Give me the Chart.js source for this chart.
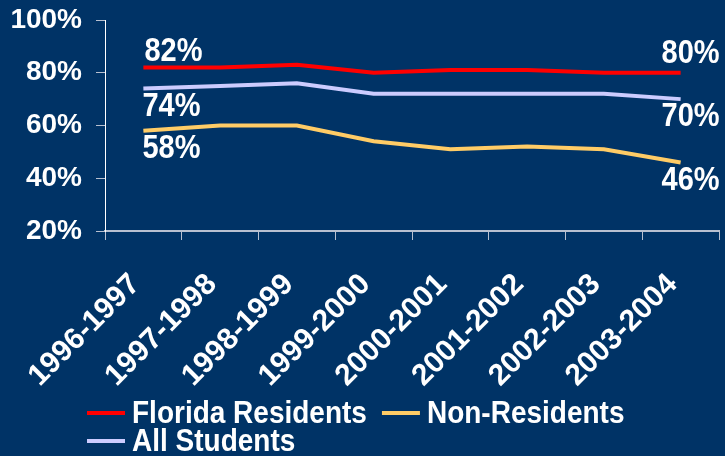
<!DOCTYPE html>
<html>
<head>
<meta charset="utf-8">
<script src="https://cdn.jsdelivr.net/npm/chart.js@4/dist/chart.umd.min.js"></script>
<style>
  html, body { margin: 0; padding: 0; background: #003366; }
  #wrap { width: 725px; height: 456px; position: relative; }
</style>
</head>
<body>
<div id="wrap"><canvas id="c" width="725" height="456"></canvas></div>
<script>
const categories = ["1996-1997","1997-1998","1998-1999","1999-2000","2000-2001","2001-2002","2002-2003","2003-2004"];
const floridaResidents = [82, 82, 83, 80, 81, 81, 80, 80];
const nonResidents = [58, 60, 60, 54, 51, 52, 51, 46];
const allStudents = [74, 75, 76, 72, 72, 72, 72, 70];
const yTicks = [20, 40, 60, 80, 100];

const FONT = "'Liberation Sans', Arial, sans-serif";
const STRETCH = 1.12;

const labelPlacement = {
  0: { first: 'above', last: 'above' },
  1: { first: 'below', last: 'below' },
  2: { first: 'below', last: 'below' }
};

function stretchedText(ctx, text, x, y, align, baseline) {
  ctx.save();
  ctx.translate(x, y);
  ctx.scale(1, STRETCH);
  ctx.textAlign = align;
  ctx.textBaseline = baseline;
  ctx.fillText(text, 0, 0);
  ctx.restore();
}

const endLabels = {
  id: 'endLabels',
  afterDatasetsDraw(chart) {
    const ctx = chart.ctx;
    ctx.save();
    ctx.fillStyle = '#ffffff';
    ctx.font = 'bold 29px ' + FONT;
    chart.data.datasets.forEach((ds, i) => {
      const meta = chart.getDatasetMeta(i);
      const n = ds.data.length;
      const p0 = meta.data[0], p1 = meta.data[n - 1];
      const pl = labelPlacement[i];
      if (pl.first === 'above') stretchedText(ctx, ds.data[0] + '%', p0.x + 1, p0.y + 1, 'left', 'bottom');
      else stretchedText(ctx, ds.data[0] + '%', p0.x - 1, p0.y + 2, 'left', 'top');
      if (pl.last === 'above') stretchedText(ctx, ds.data[n-1] + '%', p1.x + 39, p1.y - 2, 'right', 'bottom');
      else stretchedText(ctx, ds.data[n-1] + '%', p1.x + 39, p1.y + 2, 'right', 'top');
    });
    ctx.restore();
  }
};

const customLegend = {
  id: 'customLegend',
  afterDraw(chart) {
    const ctx = chart.ctx;
    ctx.save();
    ctx.font = 'bold 28px ' + FONT;
    const startX = 87, row0 = 413, rowH = 28, lineW = 38, gap = 7, itemGap = 15, maxRight = 720;
    let x = startX, y = row0;
    chart.data.datasets.forEach((ds) => {
      const tw = ctx.measureText(ds.label).width;
      const w = lineW + gap + tw;
      if (x !== startX && x + w > maxRight) { x = startX; y += rowH; }
      ctx.strokeStyle = ds.borderColor;
      ctx.lineWidth = 4;
      ctx.beginPath();
      ctx.moveTo(x, y);
      ctx.lineTo(x + lineW, y);
      ctx.stroke();
      ctx.fillStyle = '#ffffff';
      stretchedText(ctx, ds.label, x + lineW + gap, y + 1, 'left', 'middle');
      x += w + itemGap;
    });
    ctx.restore();
  }
};

new Chart(document.getElementById('c'), {
  type: 'line',
  data: {
    labels: categories,
    datasets: [
      { label: 'Florida Residents', data: floridaResidents, borderColor: '#ff0000', backgroundColor: '#ff0000', borderWidth: 4, pointRadius: 0, tension: 0 },
      { label: 'Non-Residents', data: nonResidents, borderColor: '#ffcc66', backgroundColor: '#ffcc66', borderWidth: 4, pointRadius: 0, tension: 0 },
      { label: 'All Students', data: allStudents, borderColor: '#ccccff', backgroundColor: '#ccccff', borderWidth: 4, pointRadius: 0, tension: 0 }
    ]
  },
  options: {
    responsive: false,
    animation: false,
    layout: { padding: { top: 20, right: 6, bottom: 60, left: 0 } },
    plugins: { legend: { display: false }, tooltip: { enabled: false } },
    scales: {
      x: {
        offset: true,
        grid: { display: true, offset: true, drawOnChartArea: false, color: '#b8c0d0', tickLength: 9, lineWidth: 1 },
        border: { display: true, color: '#b8c0d0', width: 2 },
        ticks: { color: '#ffffff', font: { family: FONT, size: 30, weight: 'bold' }, maxRotation: 45, minRotation: 45, padding: 27, labelOffset: -8, autoSkip: false },
        afterFit(scale) { scale.height = 165; scale.paddingRight = 0; scale.paddingLeft = 0; }
      },
      y: {
        min: 20, max: 100,
        afterBuildTicks(scale) { scale.ticks = yTicks.map(v => ({ value: v })); },
        grid: { display: true, drawOnChartArea: false, color: '#b8c0d0', tickLength: 9, lineWidth: 1 },
        border: { display: true, color: '#ffffff', width: 1 },
        ticks: { color: '#ffffff', font: { family: FONT, size: 28, weight: 'bold' }, padding: 14, callback: v => v + '%' },
        afterFit(scale) { scale.width = 105; scale.paddingTop = 0; scale.paddingBottom = 0; }
      }
    }
  },
  plugins: [endLabels, customLegend, {
    id: 'bg',
    beforeDraw(chart) { const c = chart.ctx; c.save(); c.fillStyle = '#003366'; c.fillRect(0, 0, chart.width, chart.height); c.restore(); }
  }]
});
</script>
</body>
</html>
